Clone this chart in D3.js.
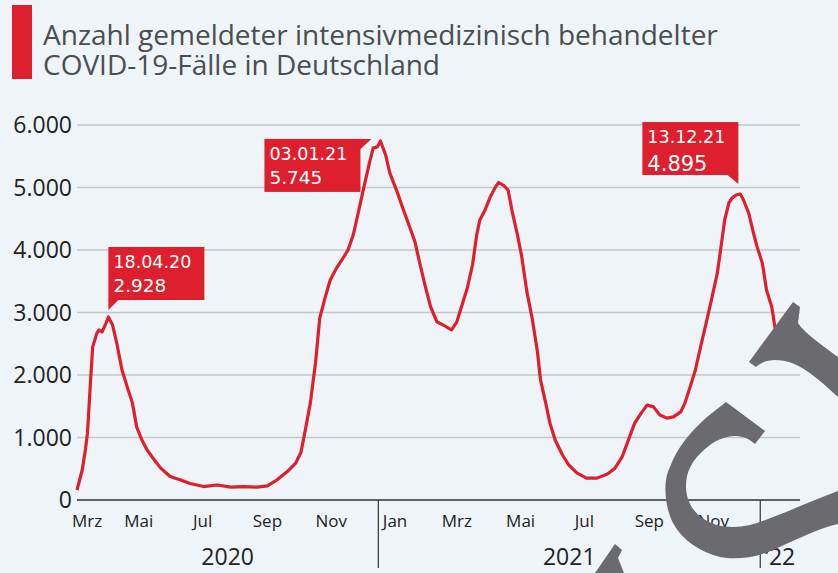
<!DOCTYPE html>
<html>
<head>
<meta charset="utf-8">
<script src="https://cdn.jsdelivr.net/npm/d3@7"></script>
<style>
  body { margin: 0; background: #eef4f8; }
  svg { display: block; }
</style>
</head>
<body>
<script>
// Intensivpatienten COVID-19 (DIVI)
const dates = [
  "2020-03-19","2020-03-24","2020-03-27","2020-03-29","2020-04-01","2020-04-03","2020-04-07","2020-04-09",
  "2020-04-12","2020-04-15","2020-04-18","2020-04-22","2020-04-26","2020-05-01","2020-05-06","2020-05-11",
  "2020-05-15","2020-05-20","2020-05-25","2020-06-01","2020-06-07","2020-06-16","2020-06-26","2020-07-05",
  "2020-07-18","2020-07-31","2020-08-13","2020-08-25","2020-09-07","2020-09-17","2020-09-26","2020-10-06",
  "2020-10-14","2020-10-19","2020-10-23","2020-10-28","2020-11-02","2020-11-06","2020-11-11","2020-11-16",
  "2020-11-22","2020-11-29","2020-12-03","2020-12-08","2020-12-13","2020-12-18","2020-12-23","2020-12-27",
  "2020-12-31","2021-01-03","2021-01-08","2021-01-12","2021-01-19","2021-01-25","2021-02-01","2021-02-05",
  "2021-02-10","2021-02-15","2021-02-20","2021-02-26","2021-03-04","2021-03-09","2021-03-12","2021-03-17",
  "2021-03-22","2021-03-27","2021-04-01","2021-04-05","2021-04-08","2021-04-13","2021-04-18","2021-04-23",
  "2021-04-26","2021-05-01","2021-05-05","2021-05-09","2021-05-14","2021-05-18","2021-05-23","2021-05-28",
  "2021-06-02","2021-06-05","2021-06-10","2021-06-14","2021-06-19","2021-06-26","2021-07-02","2021-07-10",
  "2021-07-19","2021-07-29","2021-08-08","2021-08-15","2021-08-22","2021-08-28","2021-09-03","2021-09-10",
  "2021-09-15","2021-09-21","2021-09-27","2021-10-04","2021-10-10","2021-10-17","2021-10-21","2021-10-26",
  "2021-10-31","2021-11-05","2021-11-11","2021-11-16","2021-11-21","2021-11-25","2021-11-28","2021-12-02",
  "2021-12-05","2021-12-09","2021-12-13","2021-12-16","2021-12-21","2021-12-26","2021-12-29","2022-01-03",
  "2022-01-07","2022-01-12","2022-01-15","2022-01-20","2022-01-25"
];
const values = [
  160, 480, 800, 1070, 1920, 2450, 2670, 2720,
  2690, 2800, 2928, 2800, 2510, 2080, 1810, 1550,
  1170, 960, 800, 640, 510, 375, 320, 265,
  215, 240, 205, 215, 205, 225, 320, 455,
  590, 760, 1100, 1550, 2200, 2910, 3230, 3520,
  3710, 3890, 4000, 4240, 4610, 4990, 5360, 5630,
  5650, 5745, 5520, 5230, 4930, 4640, 4320, 4130,
  3760, 3410, 3090, 2850, 2800, 2750, 2720, 2850,
  3120, 3390, 3760, 4240, 4480, 4640, 4850, 5010,
  5080, 5030, 4960, 4610, 4240, 3900, 3330, 2910,
  2380, 1920, 1550, 1230, 960, 720, 560, 430,
  350, 350, 415, 505, 690, 960, 1230, 1410,
  1520, 1490, 1360, 1310, 1330, 1410, 1550, 1810,
  2080, 2450, 2880, 3250, 3630, 4110, 4480, 4750,
  4830, 4880, 4895, 4800, 4590, 4240, 4050, 3790,
  3360, 3090, 2770, 2550, 2400
];

const yTicks = [0, 1000, 2000, 3000, 4000, 5000, 6000];
const monthLabels = ["Mrz", "Mai", "Jul", "Sep", "Nov", "Jan", "Mrz", "Mai", "Jul", "Sep", "Nov"];
const yearLabels = ["2020", "2021", "\u201822"];
const yearStarts = ["2020-01-01", "2021-01-01", "2022-01-01"];

const calloutDates = ["2020-04-18", "2021-01-03", "2021-12-13"];
const calloutValues = [2928, 5745, 4895];
const calloutSides = ["up", "left", "upleft"];

const width = 838;
const height = 573;
const red = "#dd1f2e";

const parse = d3.timeParse("%Y-%m-%d");
const data = dates.map((d, i) => ({ date: parse(d), value: values[i] }));

const de = d3.formatLocale({ decimal: ",", thousands: ".", grouping: [3], currency: ["", " €"] });
const fmt = de.format(",");
const fmtDate = d3.timeFormat("%d.%m.%y");

const svg = d3.select("body").append("svg").attr("width", width).attr("height", height);

svg.append("rect").attr("width", width).attr("height", height).attr("fill", "#eef4f8");

// title
svg.append("rect").attr("x", 12).attr("y", 5).attr("width", 20).attr("height", 74).attr("fill", red);
const title = svg.append("text")
  .attr("font-family", "Open Sans, sans-serif")
  .attr("font-size", 28)
  .attr("fill", "#4b4e51");
title.append("tspan").attr("x", 43).attr("y", 45).text("Anzahl gemeldeter intensivmedizinisch behandelter");
title.append("tspan").attr("x", 43).attr("y", 75).text("COVID-19-Fälle in Deutschland");

// scales
const x = d3.scaleTime()
  .domain([parse("2020-03-19"), parse("2022-02-08")])
  .range([77, 800]);

const y = d3.scaleLinear()
  .domain([0, 6000])
  .range([500, 125]);

// grid + y labels
svg.append("g")
  .selectAll("line")
  .data(yTicks.filter(d => d > 0))
  .join("line")
  .attr("x1", x.range()[0])
  .attr("x2", x.range()[1])
  .attr("y1", d => y(d))
  .attr("y2", d => y(d))
  .attr("stroke", "#c3c7cb")
  .attr("stroke-width", 1.5);

svg.append("g")
  .selectAll("text")
  .data(yTicks)
  .join("text")
  .attr("x", 72)
  .attr("y", d => y(d))
  .attr("dy", "0.36em")
  .attr("text-anchor", "end")
  .attr("font-family", "Open Sans, sans-serif")
  .attr("font-size", 23)
  .attr("fill", "#222")
  .text(d => fmt(d));

// baseline
svg.append("line")
  .attr("x1", x.range()[0]).attr("x2", x.range()[1])
  .attr("y1", y(0)).attr("y2", y(0))
  .attr("stroke", "#333").attr("stroke-width", 1.5);

// month labels, centred in the month
const months = d3.timeMonth.every(2).range(parse("2020-03-01"), parse("2021-12-01"));
svg.append("g")
  .selectAll("text")
  .data(months)
  .join("text")
  .attr("x", d => Math.max(x(d3.timeDay.offset(d, 16)), 87))
  .attr("y", 527)
  .attr("text-anchor", "middle")
  .attr("font-family", "Open Sans, sans-serif")
  .attr("font-size", 17)
  .attr("fill", "#222")
  .text((d, i) => monthLabels[i]);

// year dividers and labels
const yearDates = yearStarts.map(parse);
svg.append("g")
  .selectAll("line")
  .data(yearDates.slice(1))
  .join("line")
  .attr("x1", d => x(d)).attr("x2", d => x(d))
  .attr("y1", y(0)).attr("y2", 568)
  .attr("stroke", "#333").attr("stroke-width", 1.2);

svg.append("g")
  .selectAll("text")
  .data(yearDates)
  .join("text")
  .attr("x", (d, i) => {
    const a = Math.max(x(d), x.range()[0]);
    const b = i < yearDates.length - 1 ? x(yearDates[i + 1]) : x.range()[1];
    return (a + b) / 2;
  })
  .attr("y", 565)
  .attr("text-anchor", "middle")
  .attr("font-family", "Open Sans, sans-serif")
  .attr("font-size", 23)
  .attr("fill", "#222")
  .text((d, i) => yearLabels[i]);

// the line
const line = d3.line()
  .x(d => x(d.date))
  .y(d => y(d.value));

svg.append("path")
  .datum(data)
  .attr("d", line)
  .attr("fill", "none")
  .attr("stroke", red)
  .attr("stroke-width", 3.2)
  .attr("stroke-linejoin", "round");

// callouts
const bw = 96, bh = 53;
calloutDates.forEach((ds, i) => {
  const dt = parse(ds);
  const px = x(dt), py = y(calloutValues[i]);
  const side = calloutSides[i];
  let bx, by, tri;
  if (side === "up") {
    bx = px; by = py - 70;
    tri = [[bx, by + bh - 1], [bx + 11, by + bh - 1], [bx, py - 7]];
  } else if (side === "left") {
    bx = px - 20 - bw; by = py - 2;
    tri = [[bx + bw - 1, by], [px - 9, by], [bx + bw - 1, by + 11]];
  } else {
    bx = px - 2 - bw; by = py - 72;
    tri = [[bx + bw - 12, by + bh - 1], [bx + bw, by + bh - 1], [bx + bw, py - 10]];
  }
  const g = svg.append("g");
  g.append("rect").attr("x", bx).attr("y", by).attr("width", bw).attr("height", bh).attr("fill", red);
  g.append("path").attr("d", d3.line()(tri) + "Z").attr("fill", red);
  g.append("text")
    .attr("x", bx + 5).attr("y", by + 21)
    .attr("font-family", "DejaVu Sans, Verdana, sans-serif")
    .attr("font-size", 17.5)
    .attr("fill", "#fff")
    .text(fmtDate(dt));
  g.append("text")
    .attr("x", bx + 5).attr("y", by + (i === 2 ? 49 : 45))
    .attr("font-family", "DejaVu Sans, Verdana, sans-serif")
    .attr("font-size", i === 2 ? 21 : 18.5)
    .attr("fill", "#fff")
    .text(fmt(calloutValues[i]));
});

// logo overlay in the corner
const logo = svg.append("g").attr("fill", "#6b6b6f");
logo.append("path").attr("d",
  "M793,302 L800,307 L798,323 C803,331 815,340 838,357 L838,397 " +
  "C826,386 808,369 792,363 C778,358 764,359 756,367 L749,362 Z");
logo.append("path").attr("d",
  "M726,402 L765,431 L755,444 C748,438 742,436 735,436 C725,436 714,441 705,449 " +
  "C692,460 686,472 686,486 C686,502 694,514 707,521 C720,528 735,528 750,525 " +
  "C775,518 805,503 838,491 L838,524 C820,528 795,540 773,550 C755,558 735,560 720,557 " +
  "C700,552 682,540 673,523 C664,505 663,480 670,467 C677,448 690,432 707,417 Z");
logo.append("path").attr("d", "M595,573 L615,544 L622,550 L618,558 L624,573 Z");
</script>
</body>
</html>
